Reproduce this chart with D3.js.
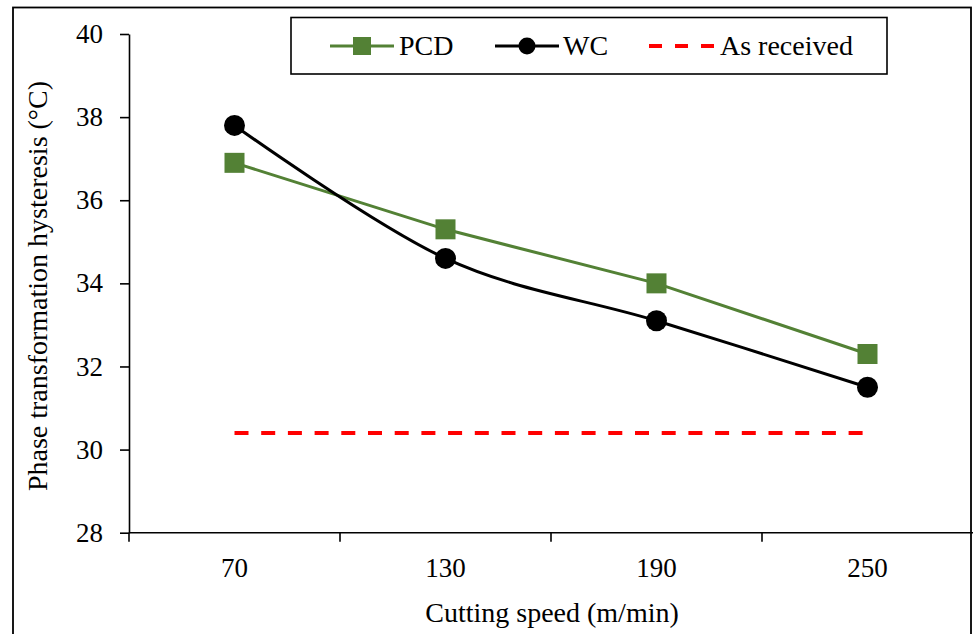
<!DOCTYPE html>
<html>
<head>
<meta charset="utf-8">
<script src="https://cdn.jsdelivr.net/npm/d3@7/dist/d3.min.js"></script>
<style>
  html, body { margin: 0; padding: 0; background: #fff; }
  svg { display: block; }
</style>
</head>
<body>
<svg id="chart" width="973" height="634"></svg>
<script>
// Cutting speed categories (m/min)
const categories = ["70", "130", "190", "250"];
// Phase transformation hysteresis (°C) per tool material
const pcdValues = [36.9, 35.3, 34.0, 32.3];
const wcValues = [37.8, 34.6, 33.1, 31.5];
// Reference level of the as-received material
const asReceived = 30.4;
// Y axis tick labels
const yTicks = [28, 30, 32, 34, 36, 38, 40];

// Pick the first installed Times-like serif face
function pickSerif() {
  const candidates = ["Liberation Serif", "Tinos", "Times New Roman", "Nimbus Roman", "DejaVu Serif", "Noto Serif"];
  const ctx = document.createElement("canvas").getContext("2d");
  const sample = "abcdefghijklmnopqrstuvwxyz ABCDEFGHIJ 0123456789";
  const widthOf = f => { ctx.font = "72px " + f; return ctx.measureText(sample).width; };
  const mono = widthOf("monospace"), sans = widthOf("sans-serif");
  for (const c of candidates) {
    if (widthOf(`'${c}', monospace`) !== mono || widthOf(`'${c}', sans-serif`) !== sans) return `'${c}'`;
  }
  return "serif";
}
const FONT = pickSerif() + ", serif";

const svg = d3.select("#chart").style("font-family", FONT);

const green = "#538135";
const red = "#ff0000";

// Outer chart frame
svg.append("rect")
  .attr("x", 13).attr("y", 7.5)
  .attr("width", 958).attr("height", 640)
  .attr("fill", "none").attr("stroke", "#000").attr("stroke-width", 1.8);

const plot = { left: 129, right: 973, top: 34, bottom: 532.7 };

const x = d3.scaleBand().domain(categories).range([plot.left, plot.right]).padding(0);
const y = d3.scaleLinear().domain([28, 40]).range([plot.bottom, plot.top]);
const cx = c => x(c) + x.bandwidth() / 2;

// Y axis
const yAxis = svg.append("g")
  .attr("transform", `translate(${plot.left},0)`)
  .call(d3.axisLeft(y).tickValues(yTicks).tickSize(9).tickPadding(17).tickSizeOuter(0));
yAxis.attr("font-family", FONT).attr("font-size", 27);
yAxis.select(".domain").attr("stroke", "#000").attr("stroke-width", 1.6);
yAxis.selectAll(".tick line").attr("stroke", "#000").attr("stroke-width", 1.6);
yAxis.selectAll(".tick text").attr("fill", "#000");

// X axis: labels centred in each category, ticks at category boundaries
const xAxis = svg.append("g")
  .attr("transform", `translate(0,${plot.bottom})`)
  .call(d3.axisBottom(x).tickSize(0).tickSizeOuter(0));
xAxis.attr("font-family", FONT).attr("font-size", 27);
xAxis.select(".domain").remove();
xAxis.selectAll(".tick text").attr("y", 44).attr("dy", null).attr("fill", "#000");

svg.append("line")
  .attr("x1", plot.left).attr("x2", plot.right)
  .attr("y1", plot.bottom).attr("y2", plot.bottom)
  .attr("stroke", "#000").attr("stroke-width", 1.6);

const boundaries = categories.map(c => x(c));
svg.append("g").selectAll("line").data(boundaries).join("line")
  .attr("x1", d => d).attr("x2", d => d)
  .attr("y1", plot.bottom).attr("y2", plot.bottom + 9)
  .attr("stroke", "#000").attr("stroke-width", 1.6);

// Axis titles
svg.append("text")
  .attr("x", 552).attr("y", 622)
  .attr("text-anchor", "middle")
  .attr("font-size", 28)
  .text("Cutting speed (m/min)");

svg.append("text")
  .attr("transform", `translate(47,286) rotate(-90)`)
  .attr("text-anchor", "middle")
  .attr("font-size", 28)
  .text("Phase transformation hysteresis (°C)");

// As-received reference line
svg.append("line")
  .attr("x1", cx(categories[0])).attr("x2", cx(categories[categories.length - 1]))
  .attr("y1", y(asReceived)).attr("y2", y(asReceived))
  .attr("stroke", red).attr("stroke-width", 4)
  .attr("stroke-dasharray", "14,12.7");

// PCD series (straight segments)
const pcdData = categories.map((c, i) => ({ c, v: pcdValues[i] }));
svg.append("path")
  .datum(pcdData)
  .attr("fill", "none").attr("stroke", green).attr("stroke-width", 3)
  .attr("d", d3.line().x(d => cx(d.c)).y(d => y(d.v)));

// WC series (smoothed)
const wcData = categories.map((c, i) => ({ c, v: wcValues[i] }));
svg.append("path")
  .datum(wcData)
  .attr("fill", "none").attr("stroke", "#000").attr("stroke-width", 3)
  .attr("d", d3.line().curve(d3.curveCardinal.tension(0)).x(d => cx(d.c)).y(d => y(d.v)));

// Markers
const sq = 20;
svg.append("g").selectAll("rect").data(pcdData).join("rect")
  .attr("x", d => cx(d.c) - sq / 2).attr("y", d => y(d.v) - sq / 2)
  .attr("width", sq).attr("height", sq)
  .attr("fill", green);

svg.append("g").selectAll("circle").data(wcData).join("circle")
  .attr("cx", d => cx(d.c)).attr("cy", d => y(d.v)).attr("r", 10.5)
  .attr("fill", "#000");

// Legend
const lg = svg.append("g");
lg.append("rect")
  .attr("x", 291).attr("y", 17.5).attr("width", 596).attr("height", 56.5)
  .attr("fill", "#fff").attr("stroke", "#000").attr("stroke-width", 1.6);

const ly = 46;
// PCD entry
lg.append("line").attr("x1", 330).attr("x2", 394).attr("y1", ly).attr("y2", ly)
  .attr("stroke", green).attr("stroke-width", 3);
lg.append("rect").attr("x", 362 - 9).attr("y", ly - 9).attr("width", 18).attr("height", 18)
  .attr("fill", green);
lg.append("text").attr("x", 399).attr("y", 55).attr("font-size", 28).text("PCD");

// WC entry
lg.append("line").attr("x1", 495).attr("x2", 559).attr("y1", ly).attr("y2", ly)
  .attr("stroke", "#000").attr("stroke-width", 3);
lg.append("circle").attr("cx", 527).attr("cy", ly).attr("r", 8.5).attr("fill", "#000");
lg.append("text").attr("x", 563).attr("y", 55).attr("font-size", 28).text("WC");

// As received entry
lg.append("line").attr("x1", 649).attr("x2", 714).attr("y1", ly).attr("y2", ly)
  .attr("stroke", red).attr("stroke-width", 4).attr("stroke-dasharray", "13,13");
lg.append("text").attr("x", 720).attr("y", 55).attr("font-size", 28).text("As received");
</script>
</body>
</html>
